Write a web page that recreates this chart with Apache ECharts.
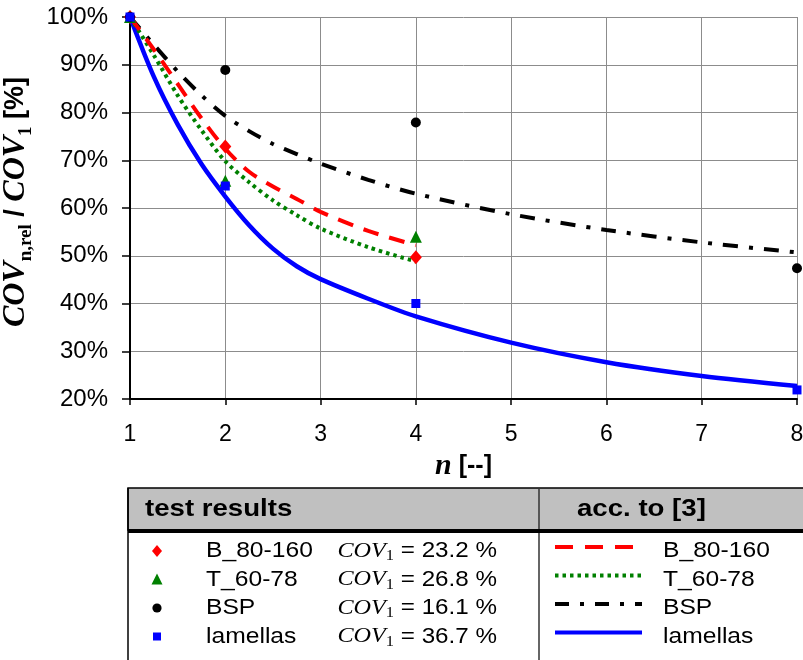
<!DOCTYPE html>
<html>
<head>
<meta charset="utf-8">
<script src="https://cdn.jsdelivr.net/npm/echarts@6.0.0/dist/echarts.min.js"></script>
<style>
  html, body { margin: 0; padding: 0; background: #fff; }
  #chart { width: 803px; height: 660px; }
</style>
</head>
<body>
<div id="chart"></div>
<script>
// axis ticks
const xTicks = [1, 2, 3, 4, 5, 6, 7, 8]
const yTicks = [20, 30, 40, 50, 60, 70, 80, 90, 100]

// curves "acc. to [3]"
const curveN = [1, 1.25, 1.5, 1.75, 2, 2.25, 2.5, 2.75, 3, 3.5, 4, 5, 6, 7, 8]
const curveB = [100, 93.2, 86.0, 78.8, 72.4, 67.6, 64.5, 61.9, 59.2, 55.2, 52.2]
const curveT = [100, 92.0, 83.6, 76.3, 69.8, 65.4, 61.6, 58.5, 55.7, 51.8, 48.8]
const curveBSP = [100, 94.2, 88.6, 83.6, 79.3, 76.1, 73.4, 71.3, 69.3, 65.9, 63.0, 58.7, 55.4, 52.8, 50.7]
const curveLam = [100, 87.5, 77.5, 69.2, 62.4, 56.4, 51.5, 47.8, 45.1, 41.0, 37.3, 31.8, 27.7, 24.8, 22.7]

// test results
const testNB = [1, 2, 4]
const testB = [100, 72.9, 49.7]
const testNT = [1, 2, 4]
const testT = [100, 65.7, 54.0]
const testNBSP = [1, 2, 4, 8]
const testBSP = [100, 88.9, 77.9, 47.4]
const testNLam = [1, 2, 4, 8]
const testLam = [100, 64.6, 40.0, 21.9]

// legend table
const seriesNames = ['B_80-160', 'T_60-78', 'BSP', 'lamellas']
const cov1 = ['23.2', '26.8', '16.1', '36.7']

const sans = "'Liberation Sans', Arial, sans-serif"
const serif = "'Liberation Serif', 'Times New Roman', serif"
const colors = ['#ff0000', '#008000', '#000000', '#0000ff']

const pairs = (xs, ys) => ys.map((y, i) => [xs[i], y])

const lineSeries = [
  { data: pairs(curveN, curveB), type: [16, 11], width: 4 },
  { data: pairs(curveN, curveT), type: [3.5, 4], width: 4 },
  { data: pairs(curveN, curveBSP), type: [15, 11, 4, 11], width: 4 },
  { data: pairs(curveN, curveLam), type: 'solid', width: 4.5 }
].map((s, i) => ({
  name: seriesNames[i] + ' (acc. to [3])',
  type: 'line',
  data: s.data,
  smooth: 0.3,
  showSymbol: false,
  silent: true,
  z: 2 + (3 - i),
  lineStyle: { color: colors[i], width: s.width, type: s.type, cap: 'butt' }
}))

const scatterSeries = [
  { data: pairs(testNB, testB), symbol: 'diamond', size: [12, 14] },
  { data: pairs(testNT, testT), symbol: 'triangle', size: 12 },
  { data: pairs(testNBSP, testBSP), symbol: 'circle', size: 10 },
  { data: pairs(testNLam, testLam), symbol: 'rect', size: 9 }
].map((s, i) => ({
  name: seriesNames[i],
  type: 'scatter',
  data: s.data,
  symbol: s.symbol,
  symbolSize: s.size,
  z: 10 + i,
  itemStyle: { color: colors[i], opacity: 1 }
}))

// table under the plot
const rowY = [551, 579.5, 608, 636.5]
const graphics = [
  { type: 'rect', shape: { x: 128, y: 488, width: 700, height: 42 },
    style: { fill: '#c0c0c0', stroke: '#000', lineWidth: 1.5 } },
  { type: 'line', shape: { x1: 128, y1: 488, x2: 128, y2: 662 }, style: { stroke: '#000', lineWidth: 1.5 } },
  { type: 'line', shape: { x1: 539, y1: 488, x2: 539, y2: 662 }, style: { stroke: '#333', lineWidth: 1.5 } },
  { type: 'line', shape: { x1: 128, y1: 531, x2: 805, y2: 531 }, style: { stroke: '#000', lineWidth: 4 } },
  { type: 'text', x: 145, y: 509, scaleX: 1.15, style: { text: 'test results', font: 'bold 24px ' + sans, fill: '#000', verticalAlign: 'middle' } },
  { type: 'text', x: 577, y: 509, scaleX: 1.15, style: { text: 'acc. to [3]', font: 'bold 24px ' + sans, fill: '#000', verticalAlign: 'middle' } }
]
const legendDash = [[18, 12], [3.5, 4], [14, 11, 4, 11], null]
rowY.forEach((y, i) => {
  const c = colors[i]
  if (i === 0) graphics.push({ type: 'polygon', shape: { points: [[157, y - 6], [162, y], [157, y + 6], [152, y]] }, style: { fill: c } })
  if (i === 1) graphics.push({ type: 'polygon', shape: { points: [[157, y - 6], [162.5, y + 5], [151.5, y + 5]] }, style: { fill: c } })
  if (i === 2) graphics.push({ type: 'circle', shape: { cx: 157, cy: y, r: 4.6 }, style: { fill: c } })
  if (i === 3) graphics.push({ type: 'rect', shape: { x: 153, y: y - 4, width: 8, height: 8 }, style: { fill: c } })
  graphics.push({ type: 'text', x: 206, y: y, scaleX: 1.12, style: { text: seriesNames[i], font: '22px ' + sans, fill: '#000', verticalAlign: 'middle' } })
  graphics.push({ type: 'text', x: 497, y: y, scaleX: 1.1, style: {
    text: '{c|COV}{s|1}{t| = ' + cov1[i] + ' %}', align: 'right', verticalAlign: 'middle',
    rich: {
      c: { fontFamily: serif, fontStyle: 'italic', fontSize: 22, lineHeight: 26, verticalAlign: 'middle', fill: '#000' },
      s: { fontFamily: serif, fontSize: 15, lineHeight: 14, verticalAlign: 'bottom', fill: '#000' },
      t: { fontFamily: sans, fontSize: 22, lineHeight: 26, verticalAlign: 'middle', fill: '#000' }
    } } })
  const ly = y - 4
  const ls = { stroke: c, lineWidth: 4 }
  if (legendDash[i]) ls.lineDash = legendDash[i]
  graphics.push({ type: 'line', shape: { x1: 555, y1: ly, x2: 642, y2: ly }, style: ls })
  graphics.push({ type: 'text', x: 663, y: y, scaleX: 1.12, style: { text: seriesNames[i], font: '22px ' + sans, fill: '#000', verticalAlign: 'middle' } })
})

const chart = echarts.init(document.getElementById('chart'), null, { renderer: 'canvas' })
chart.setOption({
  animation: false,
  backgroundColor: '#fff',
  grid: { left: 130, right: 6, top: 17, bottom: 261, containLabel: false, outerBoundsMode: 'none' },
  xAxis: {
    type: 'value',
    min: xTicks[0], max: xTicks[xTicks.length - 1], interval: 1,
    name: '{n|n}{b| [--]}',
    nameLocation: 'middle',
    nameGap: 48,
    nameTextStyle: {
      rich: {
        n: { fontFamily: serif, fontStyle: 'italic', fontWeight: 'bold', fontSize: 30, color: '#000', lineHeight: 30 },
        b: { fontFamily: sans, fontWeight: 'bold', fontSize: 25, color: '#000', lineHeight: 30 }
      }
    },
    axisLine: { lineStyle: { color: '#000', width: 2 } },
    axisTick: { show: true, length: 6, lineStyle: { color: '#000', width: 1.5 } },
    axisLabel: { margin: 24, fontFamily: sans, fontSize: 23, color: '#000' },
    splitLine: { show: true, lineStyle: { color: '#8c8c8c', width: 1 } }
  },
  yAxis: {
    type: 'value',
    min: yTicks[0], max: yTicks[yTicks.length - 1], interval: 10,
    name: '{c|COV}{s|n,rel}{m| / }{c|COV}{s|1}{m| [%]}',
    nameLocation: 'middle',
    nameRotate: 90,
    nameGap: 86,
    nameTextStyle: {
      padding: [0, 0, 0, 12],
      rich: {
        c: { fontFamily: serif, fontStyle: 'italic', fontWeight: 'bold', fontSize: 32, color: '#000', lineHeight: 40, verticalAlign: 'middle' },
        s: { fontFamily: serif, fontWeight: 'bold', fontSize: 19, color: '#000', lineHeight: 19, verticalAlign: 'bottom' },
        m: { fontFamily: sans, fontWeight: 'bold', fontSize: 27, color: '#000', lineHeight: 40, verticalAlign: 'middle' }
      }
    },
    axisLine: { show: true, lineStyle: { color: '#000', width: 2 } },
    axisTick: { show: true, length: 8, lineStyle: { color: '#000', width: 1.5 } },
    axisLabel: { margin: 22, fontFamily: sans, fontSize: 24, color: '#000', formatter: '{value}%' },
    splitLine: { show: true, lineStyle: { color: '#8c8c8c', width: 1 } }
  },
  series: lineSeries.concat(scatterSeries),
  graphic: graphics
})
</script>
</body>
</html>
